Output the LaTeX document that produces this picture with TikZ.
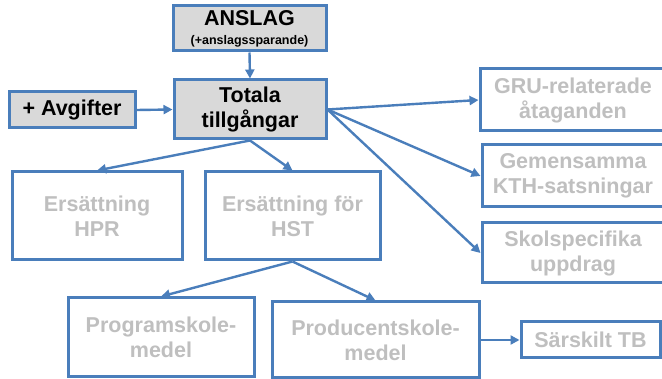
\documentclass[tikz,border=0pt]{standalone}
\usepackage{fontspec}
\setmainfont{Liberation Sans}
\usetikzlibrary{arrows.meta}
\definecolor{bordblue}{RGB}{74,126,187}
\definecolor{boxgray}{RGB}{217,217,217}
\definecolor{fadetext}{RGB}{191,191,191}
\tikzset{
  box/.style={draw=bordblue, line width=3pt, inner sep=0pt, align=center,
    font=\fontsize{21.5}{25}\selectfont\bfseries},
  darkbox/.style={box, fill=boxgray, text=black},
  fadebox/.style={box, fill=white, text=fadetext},
  conn/.style={draw=bordblue, line width=2.4pt, -{Triangle[length=9pt,width=9pt]}},
}
\begin{document}
\begin{tikzpicture}[x=1pt,y=-1pt]
\useasboundingbox (0,0) rectangle (662,379);
\clip (0,0) rectangle (662,379);
\fill[white] (0,0) rectangle (662,379);
\node[darkbox, minimum width=153pt, minimum height=45pt] (anslag) at (249.5,28.5)
  {ANSLAG\\[-6pt]{\fontsize{12.5}{13}\selectfont (+anslagssparande)}};
\node[darkbox, minimum width=152pt, minimum height=59pt] (totala) at (250,109.5) {Totala\\tillgångar};
\node[darkbox, minimum width=126pt, minimum height=36pt] (avg) at (72,110) {+ Avgifter};
\node[fadebox, minimum width=186pt, minimum height=62pt] (gru) at (573,100) {GRU-relaterade\\åtaganden};
\node[fadebox, minimum width=182pt, minimum height=62pt] (gem) at (573,176) {Gemensamma\\KTH-satsningar};
\node[fadebox, minimum width=182pt, minimum height=60pt] (skol) at (573,253) {Skolspecifika\\uppdrag};
\node[fadebox, minimum width=170pt, minimum height=88pt] (hpr) at (97,216) {Ersättning\\HPR};
\node[fadebox, minimum width=175pt, minimum height=88pt] (hst) at (292.5,216) {Ersättning för\\HST};
\node[fadebox, minimum width=186pt, minimum height=79pt] (prog) at (161,337.5) {Programskole-\\medel};
\node[fadebox, minimum width=207pt, minimum height=76pt] (prod) at (375.5,340) {Producentskole-\\medel};
\node[fadebox, minimum width=139pt, minimum height=36pt] (sarskilt) at (590.5,340) {Särskilt TB};
\draw[conn] (anslag.south) -- (totala.north);
\draw[conn] (avg.east) -- (totala.west);
\draw[conn] (totala.east) -- (gru.west);
\draw[conn] (totala.east) -- (gem.west);
\draw[conn] (totala.east) -- (skol.west);
\draw[conn] (totala.south) -- (hpr.north);
\draw[conn] (totala.south) -- (hst.north);
\draw[conn] (hst.south) -- (prog.north);
\draw[conn] (hst.south) -- (prod.north);
\draw[conn] (prod.east) -- (sarskilt.west);
\end{tikzpicture}
\end{document}
